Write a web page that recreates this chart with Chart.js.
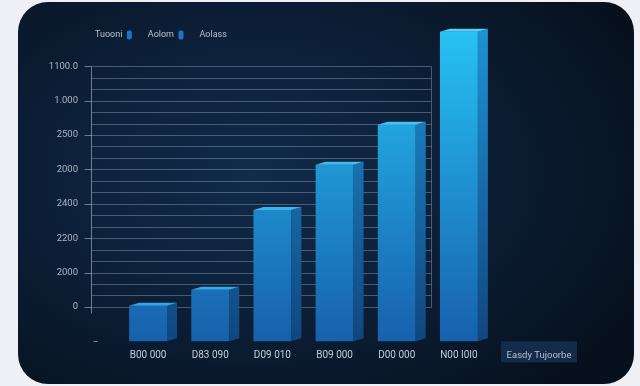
<!DOCTYPE html>
<html>
<head>
<meta charset="utf-8">
<script src="https://cdn.jsdelivr.net/npm/chart.js@4.4.1/dist/chart.umd.min.js"></script>
<style>
  html, body { margin: 0; padding: 0; width: 640px; height: 386px; overflow: hidden; background: #eef0f5; }
  .card {
    position: absolute; left: 18px; top: 2px; width: 616px; height: 382px; border-radius: 30px;
    background: radial-gradient(ellipse 70% 75% at 38% 45%, #112b4b 0%, #0c1f37 50%, #07111e 100%);
  }
  #wrap { position: absolute; left: 0; top: 0; width: 640px; height: 386px; }
</style>
</head>
<body>
<div class="card"></div>
<div id="wrap"><canvas id="chart"></canvas></div>
<script>
// --- données ---
const categories = ['B00 000', 'D83 090', 'D09 010', 'B09 000', 'D00 000', 'N00 I0I0'];
const barValues = [10, 150, 845, 1240, 1590, 2400];
const barStart = -300;
const yTickLabels = ['0', '2000', '2200', '2400', '2000', '2500', '1.000', '1100.0'];
const legendLabels = ['Tuooni', 'Aolom', 'Aolass'];
const legendColors = ['#1f73c4', '#1f73c4', 'rgba(0,0,0,0)'];
const noteLabel = 'Easdy Tujoorbe';

const FONT = 'Roboto';

// dégradés basés sur la zone du graphique
function vGrad(chart, top, bottom) {
  const { ctx, chartArea } = chart;
  if (!chartArea) return top;
  const g = ctx.createLinearGradient(0, chartArea.top - 25, 0, chartArea.bottom);
  g.addColorStop(0, top);
  g.addColorStop(1, bottom);
  return g;
}

const gridPlugin = {
  id: 'gridPlugin',
  // l'axe Y est étroit pour placer la légende, on élargit sa zone de dessin
  afterLayout(chart) {
    chart.scales.y.left = 10;
  },
  // grille dessinée seulement sous la partie graduée (comme sur l'image)
  beforeDatasetsDraw(chart) {
    const { ctx, scales: { x, y } } = chart;
    const left = Math.round(x.getPixelForValue(-0.92)) + 0.5;
    const right = Math.round(x.getPixelForValue(4.55)) + 0.5;
    const major = y.ticks.map(t => t.value).filter(v => v >= 0);
    const step = major[1] - major[0];
    const topV = major[major.length - 1];
    ctx.save();
    ctx.lineWidth = 1;
    ctx.strokeStyle = 'rgba(150,172,198,0.42)';
    for (const v of major) {
      for (let k = 0; k < 3; k++) {
        const val = v + k * step / 3;
        if (val > topV) break;
        const py = Math.round(y.getPixelForValue(val)) + 0.5;
        ctx.beginPath(); ctx.moveTo(left, py); ctx.lineTo(right, py); ctx.stroke();
      }
    }
    const yTop = Math.round(y.getPixelForValue(topV)) + 0.5;
    const yZero = Math.round(y.getPixelForValue(0)) + 0.5;
    ctx.beginPath(); ctx.moveTo(right, yTop); ctx.lineTo(right, yZero); ctx.stroke();
    // axe vertical + petites graduations
    ctx.strokeStyle = 'rgba(170,188,210,0.6)';
    ctx.beginPath(); ctx.moveTo(left, yTop); ctx.lineTo(left, yZero + 6); ctx.stroke();
    for (const v of major) {
      const py = Math.round(y.getPixelForValue(v)) + 0.5;
      ctx.beginPath(); ctx.moveTo(left - 7, py); ctx.lineTo(left, py); ctx.stroke();
    }
    ctx.fillStyle = 'rgba(170,188,210,0.7)';
    ctx.fillRect(left + 2, Math.round(y.getPixelForValue(barStart)), 4, 1);
    ctx.restore();
  },
  // faces latérales et supérieures des barres (effet 3D)
  afterDatasetsDraw(chart) {
    const { ctx, chartArea } = chart;
    const meta = chart.getDatasetMeta(0);
    const dx = 10, dy = 3;
    ctx.save();
    meta.data.forEach(bar => {
      const p = bar.getProps(['x', 'y', 'base', 'width'], true);
      const top = Math.min(p.y, p.base), bottom = Math.max(p.y, p.base);
      const l = p.x - p.width / 2, r = p.x + p.width / 2;
      ctx.fillStyle = vGrad(chart, '#1d93d6', '#11467f');
      ctx.beginPath();
      ctx.moveTo(r, top); ctx.lineTo(r + dx, top - dy); ctx.lineTo(r + dx, bottom - dy); ctx.lineTo(r, bottom);
      ctx.closePath(); ctx.fill();
      ctx.fillStyle = vGrad(chart, '#55d2fa', '#2f9fe4');
      ctx.beginPath();
      ctx.moveTo(l, top); ctx.lineTo(l + dx, top - dy); ctx.lineTo(r + dx, top - dy); ctx.lineTo(r, top);
      ctx.closePath(); ctx.fill();
    });
    // petite boîte à droite
    const bx = chartArea.right + 11, by = chartArea.bottom, bw = 76, bh = 21;
    ctx.fillStyle = 'rgba(24,52,88,0.75)';
    ctx.fillRect(bx, by, bw, bh);
    ctx.fillStyle = '#b4c0ce';
    ctx.font = '9.5px ' + FONT;
    ctx.textAlign = 'center';
    ctx.textBaseline = 'middle';
    ctx.fillText(noteLabel, bx + bw / 2, by + 14);
    ctx.restore();
  }
};

new Chart(document.getElementById('chart'), {
  type: 'bar',
  data: {
    labels: categories,
    datasets: [{
      label: legendLabels[0],
      data: barValues.map(v => [barStart, v]),
      backgroundColor: (c) => vGrad(c.chart, '#27c4f5', '#1760ac'),
      borderWidth: 0,
      barPercentage: 0.61,
      categoryPercentage: 1,
      clip: false
    }]
  },
  options: {
    responsive: true,
    maintainAspectRatio: false,
    animation: false,
    layout: { padding: { left: 79, right: 150, top: 14.6, bottom: 16.6 } },
    plugins: {
      tooltip: { enabled: false },
      legend: {
        display: true,
        position: 'top',
        align: 'end',
        rtl: true,
        labels: {
          color: '#b5c1cf',
          font: { family: FONT, size: 9 },
          boxWidth: 5,
          boxHeight: 9,
          padding: 16,
          generateLabels: () => legendLabels.map((t, i) => ({
            text: t,
            fillStyle: legendColors[i],
            strokeStyle: 'rgba(0,0,0,0)',
            fontColor: '#b5c1cf',
            lineWidth: 0,
            borderRadius: 2,
            hidden: false,
            datasetIndex: 0
          })).reverse()
        }
      }
    },
    scales: {
      x: {
        grid: { display: false, drawTicks: false },
        border: { display: false },
        ticks: {
          color: '#c3cdd9',
          font: { family: FONT, size: 10 },
          padding: 8,
          maxRotation: 0,
          autoSkip: false
        }
      },
      y: {
        min: -300,
        max: 2245,
        afterFit: (s) => { s.width = 38; },
        grid: { display: false, drawTicks: false },
        border: { display: false },
        ticks: {
          stepSize: 300,
          includeBounds: false,
          padding: 39,
          color: '#a9b5c4',
          font: { family: FONT, size: 9.5 },
          callback: (v) => (v >= 0 && v % 300 === 0) ? yTickLabels[v / 300] : ''
        }
      }
    }
  },
  plugins: [gridPlugin]
});
</script>
</body>
</html>
